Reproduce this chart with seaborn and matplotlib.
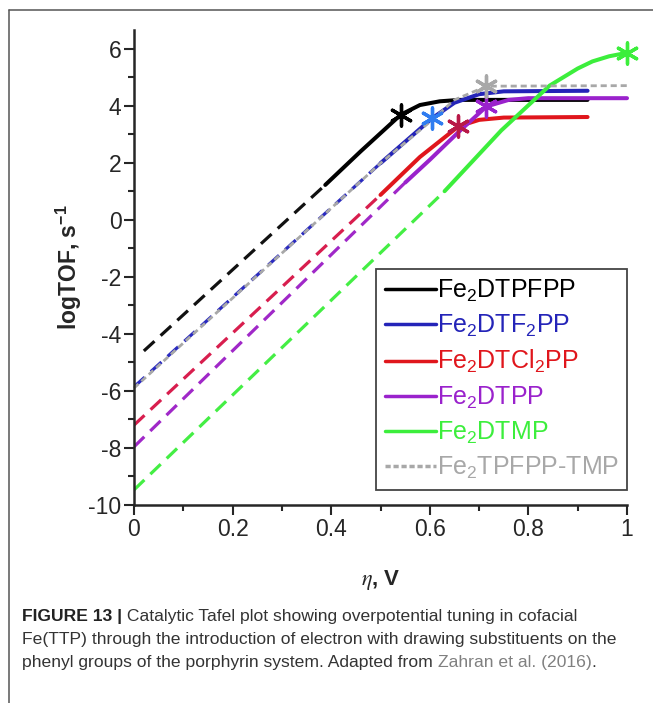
import matplotlib
matplotlib.use("Agg")
import matplotlib.pyplot as plt
import seaborn as sns
from matplotlib.lines import Line2D

# ---- data (eta in V, logTOF) ----
# each catalyst: dashed extrapolation + solid measured part + star marker
blk_dash_x = [0.02, 0.388]
blk_dash_y = [-4.6, 1.22]
blk_x = [0.388, 0.46, 0.541, 0.58, 0.62, 0.66, 0.92]
blk_y = [1.22, 2.4, 3.68, 4.02, 4.15, 4.2, 4.2]
blk_star = (0.541, 3.68)

blu_dash_x = [0.0, 0.5]
blu_dash_y = [-5.86, 1.98]
blu_x = [0.5, 0.605, 0.65, 0.7, 0.75, 0.92]
blu_y = [1.98, 3.56, 4.1, 4.4, 4.5, 4.52]
blu_star = (0.605, 3.56)

red_dash_x = [0.0, 0.5]
red_dash_y = [-7.2, 0.87]
red_x = [0.5, 0.58, 0.658, 0.70, 0.75, 0.92]
red_y = [0.87, 2.2, 3.27, 3.5, 3.58, 3.6]
red_star = (0.658, 3.27)

pur_dash_x = [0.0, 0.55]
pur_dash_y = [-7.96, 1.3]
pur_x = [0.55, 0.6, 0.66, 0.715, 0.76, 0.8, 1.0]
pur_y = [1.3, 2.1, 3.1, 3.97, 4.2, 4.26, 4.26]
pur_star = (0.715, 3.97)

grn_dash_x = [0.0, 0.63]
grn_dash_y = [-9.47, 1.0]
grn_x = [0.63, 0.745, 0.843, 0.9, 0.93, 0.964, 1.0]
grn_y = [1.0, 3.13, 4.7, 5.3, 5.55, 5.73, 5.85]
grn_star = (1.0, 5.85)

gry_x = [0.0, 0.5, 0.605, 0.65, 0.715, 1.0]
gry_y = [-5.9, 1.98, 3.5, 4.2, 4.68, 4.7]
gry_star = (0.715, 4.68)

labels = ["Fe$_2$DTPFPP", "Fe$_2$DTF$_2$PP", "Fe$_2$DTCl$_2$PP",
          "Fe$_2$DTPP", "Fe$_2$DTMP", "Fe$_2$TPFPP-TMP"]
colors = ["#000000", "#2424b8", "#e0161c", "#9a22cc", "#3cee3c", "#a8a8a8"]

xticks = [0, 0.2, 0.4, 0.6, 0.8, 1]
xticklabels = ["0", "0.2", "0.4", "0.6", "0.8", "1"]
yticks = [-10, -8, -6, -4, -2, 0, 2, 4, 6]

caption_lines = [
    ("FIGURE 13 |", " Catalytic Tafel plot showing overpotential tuning in cofacial"),
    ("", "Fe(TTP) through the introduction of electron with drawing substituents on the"),
    ("", "phenyl groups of the porphyrin system. Adapted from "),
]
caption_ref = "Zahran et al. (2016)"

sns.set_style("ticks")
plt.rcParams["font.family"] = ["Liberation Sans", "DejaVu Sans"]
plt.rcParams["axes.unicode_minus"] = False
plt.rcParams["mathtext.fontset"] = "custom"
plt.rcParams["mathtext.rm"] = "Liberation Sans"
plt.rcParams["mathtext.it"] = "Liberation Sans:italic"
plt.rcParams["mathtext.bf"] = "Liberation Sans:bold"

fig = plt.figure(figsize=(6.53, 7.03), dpi=100)
ax = fig.add_axes([134 / 653, 1 - 505 / 703, 493 / 653, 475 / 703])

lw = 2.3
dash = (0, (4.5, 2.6))
dash_cols = ["#111111", "#2a2ac0", "#d81e4e", "#a028c8", "#44ee44"]
sets = [
    (blk_dash_x, blk_dash_y, blk_x, blk_y),
    (blu_dash_x, blu_dash_y, blu_x, blu_y),
    (red_dash_x, red_dash_y, red_x, red_y),
    (pur_dash_x, pur_dash_y, pur_x, pur_y),
    (grn_dash_x, grn_dash_y, grn_x, grn_y),
]
for (dx, dy, sx, sy), c, dc in zip(sets, colors, dash_cols):
    sns.lineplot(x=dx, y=dy, ax=ax, color=dc, lw=lw, linestyle=dash,
                 estimator=None, sort=False)
    sns.lineplot(x=sx, y=sy, ax=ax, color=c, lw=lw + 0.6,
                 estimator=None, sort=False, clip_on=False)

# grey dashed reference over the blue one
sns.lineplot(x=gry_x, y=gry_y, ax=ax, color=colors[5], lw=2.0,
             linestyle=(0, (2.2, 1.4)), estimator=None, sort=False, clip_on=False)

stars = [blk_star, blu_star, red_star, pur_star, grn_star, gry_star]
star_cols = ["#000000", "#2f7cf0", "#b81848", "#9a22cc", "#3cee3c", "#a8a8a8"]
for (sx, sy), c in zip(stars, star_cols):
    sns.scatterplot(x=[sx], y=[sy], ax=ax, marker=(6, 2, 0), s=230,
                    color=c, linewidth=2.4, edgecolor=c, zorder=5, clip_on=False)

ax.set_xlim(0, 1)
ax.set_ylim(-10, 6.65)
ax.set_xticks(xticks)
ax.set_xticklabels(xticklabels)
ax.set_yticks(yticks)
ax.set_xticks([0.1, 0.3, 0.5, 0.7, 0.9], minor=True)
ax.set_yticks([-9, -7, -5, -3, -1, 1, 3, 5], minor=True)
ax.tick_params(which="major", length=7, width=1.5, labelsize=16.5, pad=2)
ax.tick_params(which="minor", length=4, width=1.5)
for s in ["left", "bottom"]:
    ax.spines[s].set_linewidth(1.8)
sns.despine(ax=ax)

ax.set_ylabel("logTOF, s$^{\\mathbf{-1}}$", fontsize=16.5, fontweight="bold", labelpad=3)
ax.set_xlabel("$\\eta$, V", fontsize=16, fontweight="bold", labelpad=20,
              math_fontfamily="stix")

handles = [Line2D([], [], color=c, lw=2.5) for c in colors[:5]]
handles.append(Line2D([], [], color=colors[5], lw=2.5, linestyle=(0, (1.5, 0.8))))
leg = ax.legend(handles, labels, loc="lower left", bbox_to_anchor=(0.491, 0.032),
                fontsize=18, frameon=True, fancybox=False, framealpha=1,
                edgecolor="#444444", handlelength=2.05, handletextpad=0.02,
                labelspacing=0.36, borderpad=0.35, borderaxespad=0)
leg.get_frame().set_linewidth(1.3)
for t, c in zip(leg.get_texts(), colors):
    t.set_color(c)

# outer frame of the figure panel
fig.add_artist(Line2D([9 / 653, 9 / 653], [0, 1 - 10 / 703], transform=fig.transFigure,
                      color="#555555", lw=1.1))
fig.add_artist(Line2D([9 / 653, 1], [1 - 10 / 703, 1 - 10 / 703], transform=fig.transFigure,
                      color="#555555", lw=1.1))

# caption
cap_fs = 12.6
base = [1 - 621 / 703, 1 - 644 / 703, 1 - 667 / 703]
prev = None
for (bold, rest), yb in zip(caption_lines, base):
    if bold:
        head = fig.text(22 / 653, yb, bold, fontsize=cap_fs, fontweight="bold",
                        color="#222222", va="baseline")
        prev = ax.annotate(rest, xy=(1, 0), xycoords=head, fontsize=cap_fs,
                           color="#333333", va="bottom", annotation_clip=False)
    else:
        prev = fig.text(22 / 653, yb, rest, fontsize=cap_fs, color="#333333", va="baseline")
ref = ax.annotate(caption_ref, xy=(1, 0), xycoords=prev, fontsize=cap_fs,
                  color="#808080", va="bottom", annotation_clip=False)
ax.annotate(".", xy=(1, 0), xycoords=ref, fontsize=cap_fs,
            color="#333333", va="bottom", annotation_clip=False)

fig.savefig("out.png", dpi=100)
